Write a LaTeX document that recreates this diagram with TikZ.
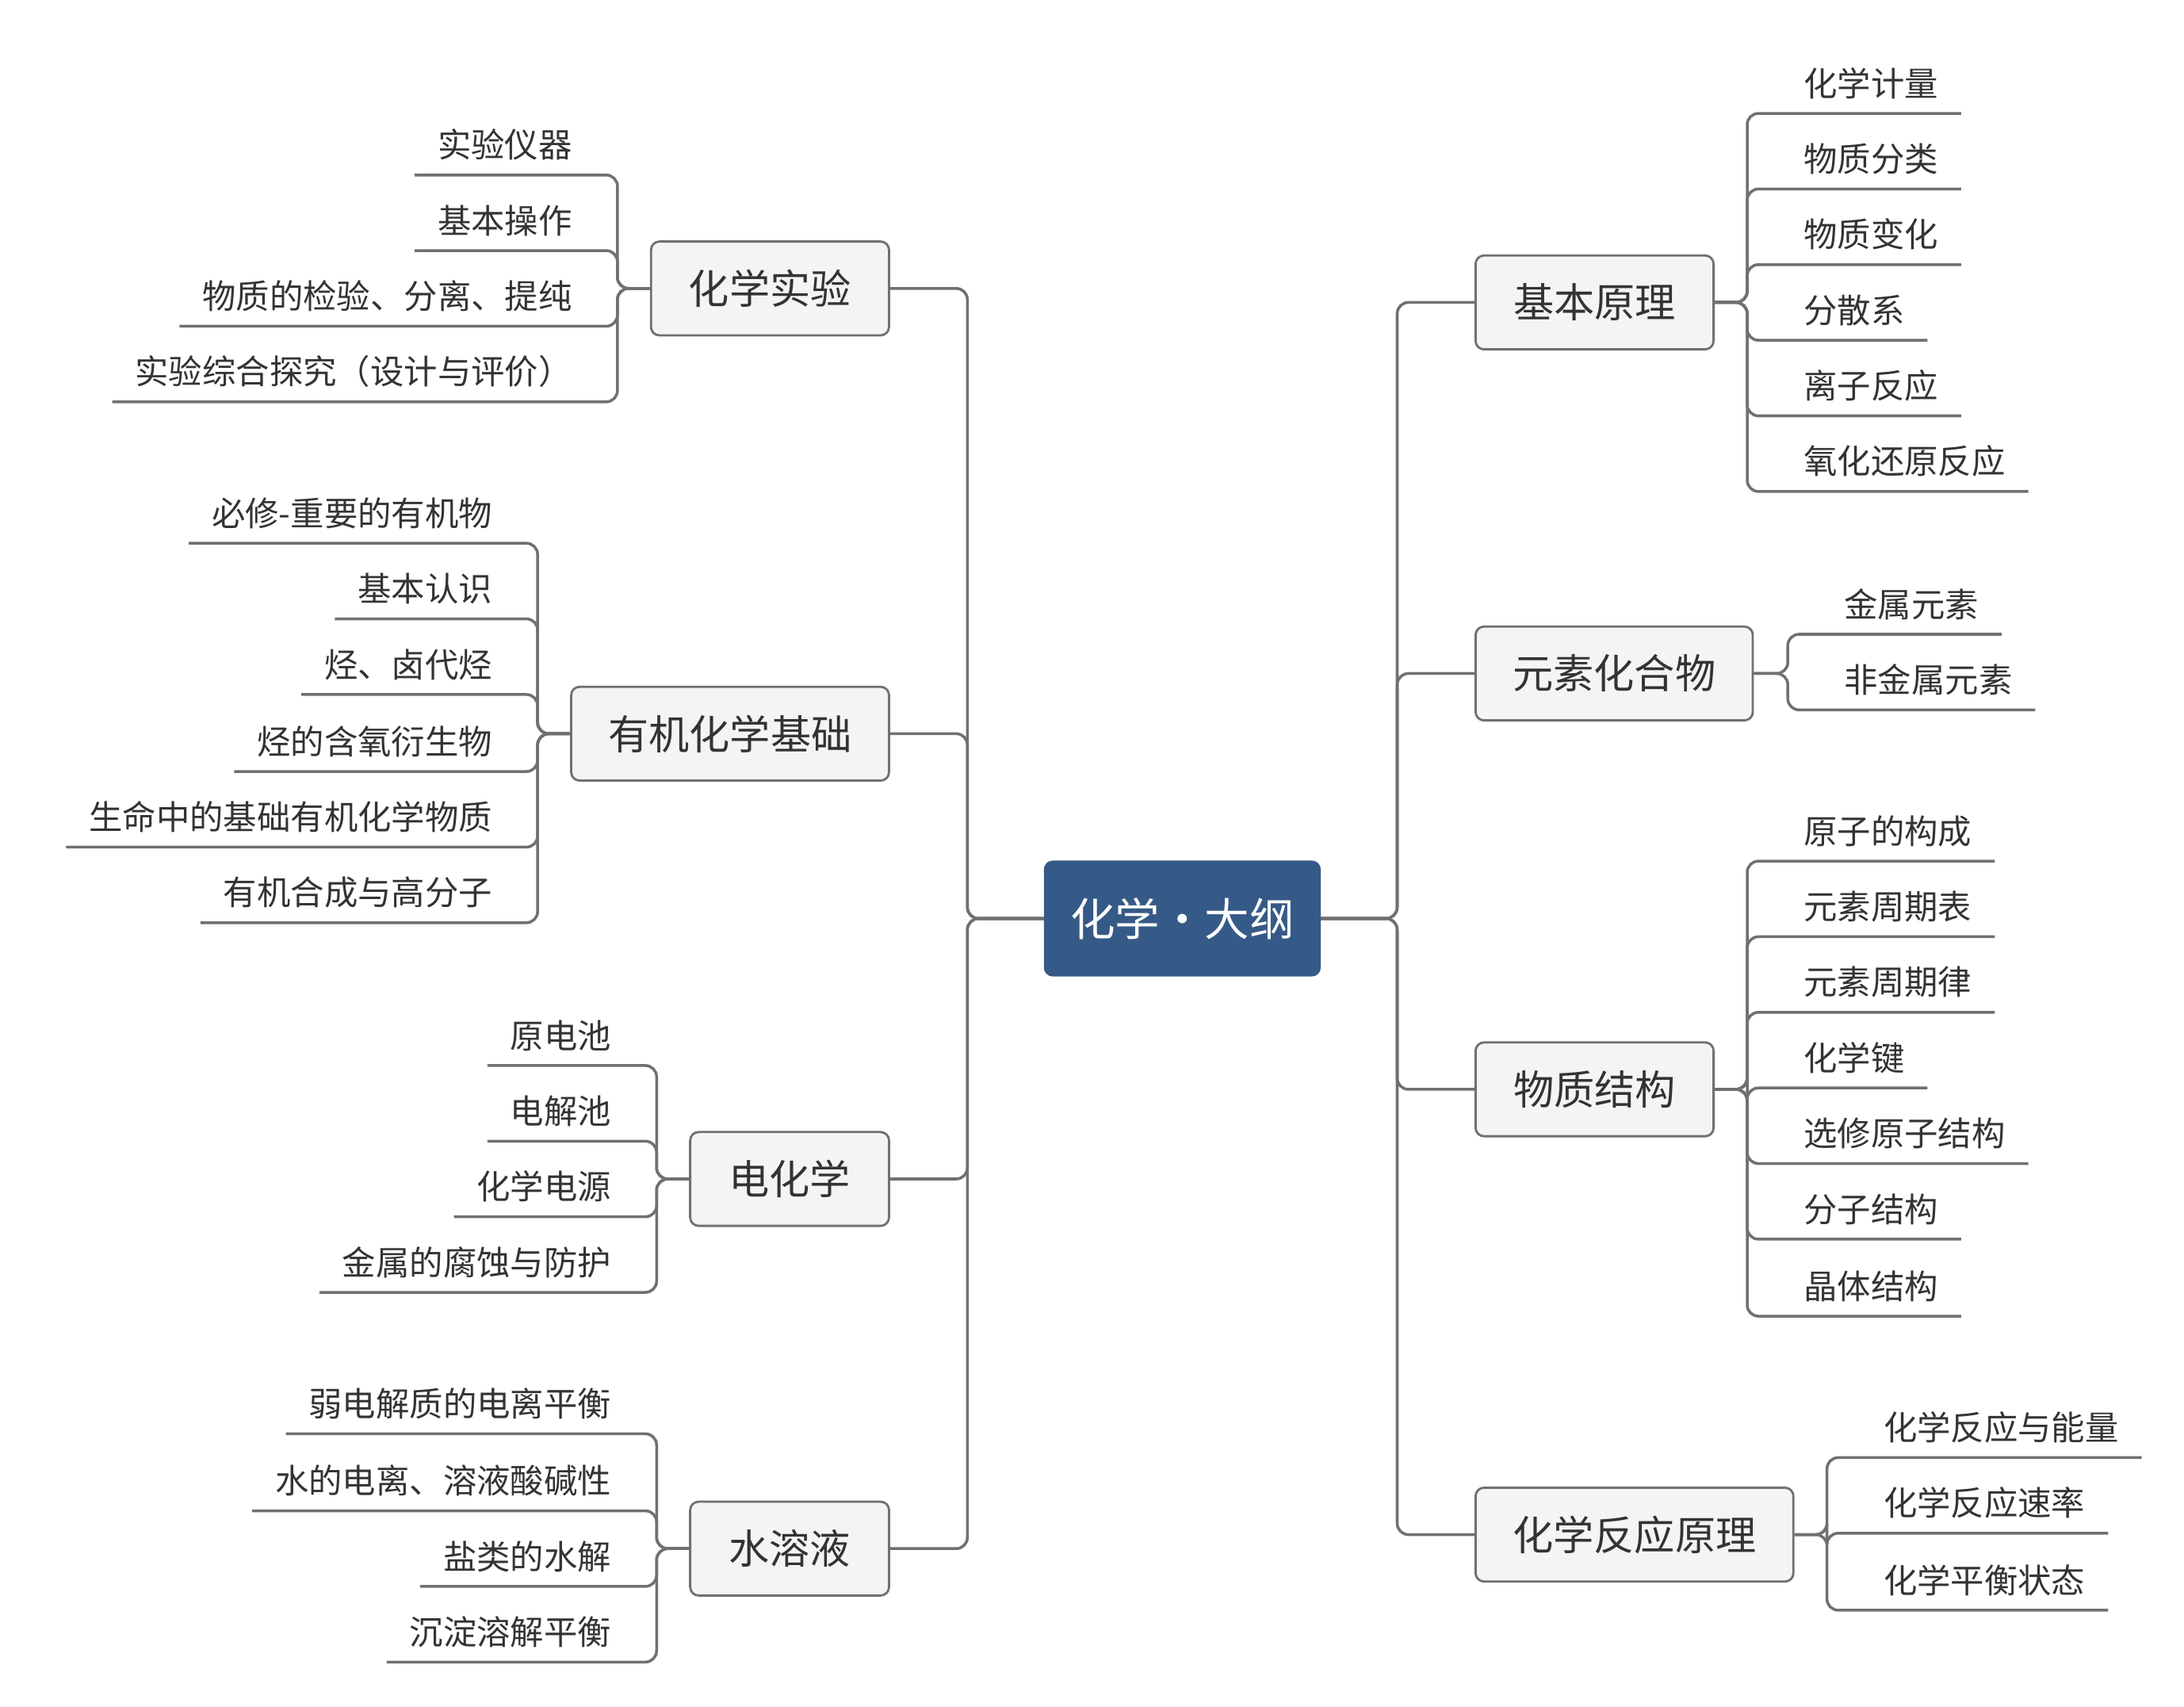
\documentclass[tikz,border=0pt]{standalone}
\usepackage{fontspec}
\setmainfont{Noto Sans CJK SC}
\definecolor{linegray}{HTML}{707070}
\definecolor{boxfill}{HTML}{F4F4F4}
\definecolor{rootblue}{HTML}{365A87}
\tikzstyle{root}=[draw=rootblue,fill=rootblue,rounded corners=3pt,text=white,font=\fontsize{16}{18}\selectfont,minimum width=98.5pt,minimum height=41pt]
\tikzstyle{branch}=[draw=linegray,fill=boxfill,rounded corners=3pt,line width=0.8pt,text=black!80,font=\fontsize{14.5}{17}\selectfont,minimum height=33.5pt,inner xsep=12pt]
\tikzstyle{leaf}=[inner xsep=8pt,inner ysep=5pt,text=black!80,font=\fontsize{12}{14}\selectfont]
\tikzstyle{conn}=[draw=linegray,line width=1pt,rounded corners=4pt]

\begin{document}
\begin{tikzpicture}[x=0.5pt,y=-0.5pt]
\useasboundingbox (0,0) rectangle (1560,1219);

\node[root] (root) at (844.5,656) {化学·大纲};

% left branches
\node[branch,minimum width=85pt] (exp) at (550,206) {化学实验};
\node[branch,minimum width=113.5pt] (org) at (521.5,524) {有机化学基础};
\node[branch,minimum width=71pt] (elec) at (564,842) {电化学};
\node[branch,minimum width=71pt] (aq) at (564,1106) {水溶液};

% right branches
\node[branch,minimum width=85pt] (basic) at (1139,216) {基本原理};
\node[branch,minimum width=99pt] (elem) at (1153,481) {元素化合物};
\node[branch,minimum width=85pt] (struct) at (1139,778) {物质结构};
\node[branch,minimum width=113.5pt] (react) at (1167.5,1096) {化学反应原理};

\foreach \b in {exp,org,elec,aq}
  \draw[conn] (root.west) -- (691,656) |- (\b.east);
\foreach \b in {basic,elem,struct,react}
  \draw[conn] (root.east) -- (998,656) |- (\b.west);

% left leaves
\foreach \t/\y [count=\i] in {实验仪器/125,基本操作/179,物质的检验、分离、提纯/233,实验综合探究（设计与评价）/287}{
  \node[leaf,anchor=south east] (exp\i) at (425,\y) {\t};
  \draw[conn] (exp.west) -- (441,206) |- (exp\i.south west);
}
\foreach \t/\y [count=\i] in {必修-重要的有机物/388,基本认识/442,烃、卤代烃/496,烃的含氧衍生物/551,生命中的基础有机化学物质/605,有机合成与高分子/659}{
  \node[leaf,anchor=south east] (org\i) at (368,\y) {\t};
  \draw[conn] (org.west) -- (384,524) |- (org\i.south west);
}
\foreach \t/\y [count=\i] in {原电池/761,电解池/815,化学电源/869,金属的腐蚀与防护/923}{
  \node[leaf,anchor=south east] (elec\i) at (453,\y) {\t};
  \draw[conn] (elec.west) -- (469,842) |- (elec\i.south west);
}
\foreach \t/\y [count=\i] in {弱电解质的电离平衡/1024,水的电离、溶液酸碱性/1079,盐类的水解/1133,沉淀溶解平衡/1187}{
  \node[leaf,anchor=south east] (aq\i) at (453,\y) {\t};
  \draw[conn] (aq.west) -- (469,1106) |- (aq\i.south west);
}

% right leaves
\foreach \t/\y [count=\i] in {化学计量/81,物质分类/135,物质变化/189,分散系/243,离子反应/297,氧化还原反应/351}{
  \node[leaf,anchor=south west] (basic\i) at (1272,\y) {\t};
  \draw[conn] (basic.east) -- (1248,216) |- (basic\i.south east);
}
\foreach \t/\y [count=\i] in {金属元素/453,非金属元素/507}{
  \node[leaf,anchor=south west] (elem\i) at (1301,\y) {\t};
  \draw[conn] (elem.east) -- (1277,481) |- (elem\i.south east);
}
\foreach \t/\y [count=\i] in {原子的构成/615,元素周期表/669,元素周期律/723,化学键/777,选修原子结构/831,分子结构/885,晶体结构/940}{
  \node[leaf,anchor=south west] (struct\i) at (1272,\y) {\t};
  \draw[conn] (struct.east) -- (1248,778) |- (struct\i.south east);
}
\foreach \t/\y [count=\i] in {化学反应与能量/1041,化学反应速率/1095,化学平衡状态/1150}{
  \node[leaf,anchor=south west] (react\i) at (1329,\y) {\t};
  \draw[conn] (react.east) -- (1305,1096) |- (react\i.south east);
}
\end{tikzpicture}
\end{document}
